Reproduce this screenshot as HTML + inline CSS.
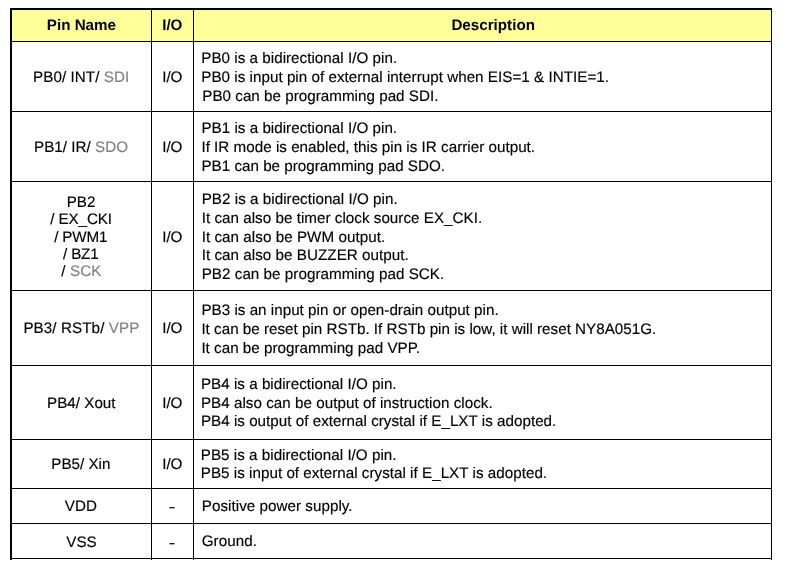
<!DOCTYPE html>
<html lang="en"><head><meta charset="utf-8"><title>Pin Description</title>
<style>
html,body{margin:0;padding:0;background:#fff}
body{width:785px;height:575px;position:relative;overflow:hidden;font-family:"Liberation Sans",Arial,sans-serif;font-size:15.2px;color:#000}
.r,.k,.t{position:absolute}
.k{background:#000}
.t{white-space:pre;-webkit-text-stroke:0.15px;text-rendering:geometricPrecision;line-height:20px;height:20px}
.c{width:200px;text-align:center}
.b{font-weight:bold;-webkit-text-stroke:0}
.g{color:#808080}
.d{transform-origin:50% 14px;transform:scale(1.3,0.84)}
</style></head><body>
<div class="r" style="left:12px;top:10px;width:759px;height:31px;background:#ffff99"></div>
<div class="k" style="left:10px;top:8px;width:2px;height:552px"></div>
<div class="k" style="left:10px;top:8px;width:762px;height:2px"></div>
<div class="k" style="left:771px;top:8px;width:1px;height:552px"></div>
<div class="k" style="left:151px;top:10px;width:1px;height:550px"></div>
<div class="k" style="left:193px;top:10px;width:1px;height:550px"></div>
<div class="k" style="left:12px;top:41px;width:759px;height:1px"></div>
<div class="k" style="left:12px;top:111px;width:759px;height:1px"></div>
<div class="k" style="left:12px;top:181px;width:759px;height:1px"></div>
<div class="k" style="left:12px;top:290px;width:759px;height:1px"></div>
<div class="k" style="left:12px;top:365px;width:759px;height:1px"></div>
<div class="k" style="left:12px;top:439px;width:759px;height:1px"></div>
<div class="k" style="left:12px;top:488px;width:759px;height:1px"></div>
<div class="k" style="left:12px;top:523px;width:759px;height:1px"></div>
<div class="k" style="left:12px;top:558px;width:759px;height:1px"></div>
<div class="t c b" style="left:-18.60px;top:16px">Pin Name</div>
<div class="t c b" style="left:72.30px;top:16px">I/O</div>
<div class="t c b" style="left:393.20px;top:16px">Description</div>
<div class="t c " style="left:-18.85px;top:68px;letter-spacing:0.0542px">PB0/ INT/ <span class="g">SDI</span></div>
<div class="t c " style="left:72.30px;top:68px">I/O</div>
<div class="t " style="left:201.25px;top:49px;letter-spacing:0.0283px">PB0 is a bidirectional I/O pin.</div>
<div class="t " style="left:201.25px;top:68px;letter-spacing:0.0280px">PB0 is input pin of external interrupt when EIS=1 &amp; INTIE=1.</div>
<div class="t " style="left:202.25px;top:87px;letter-spacing:0.0217px">PB0 can be programming pad SDI.</div>
<div class="t c " style="left:-18.95px;top:138px;letter-spacing:0.0409px">PB1/ IR/ <span class="g">SDO</span></div>
<div class="t c " style="left:72.30px;top:138px">I/O</div>
<div class="t " style="left:201.40px;top:119px;letter-spacing:0.0233px">PB1 is a bidirectional I/O pin.</div>
<div class="t " style="left:201.40px;top:138px;letter-spacing:0.0212px">If IR mode is enabled, this pin is IR carrier output.</div>
<div class="t " style="left:201.40px;top:157px;letter-spacing:0.0167px">PB1 can be programming pad SDO.</div>
<div class="t c " style="left:-19.00px;top:193px">PB2</div>
<div class="t c " style="left:-18.94px;top:210px;letter-spacing:-0.0857px">/ EX_CKI</div>
<div class="t c " style="left:-19.24px;top:228px;letter-spacing:-0.1300px">/ PWM1</div>
<div class="t c " style="left:-19.22px;top:245px;letter-spacing:-0.1875px">/ BZ1</div>
<div class="t c " style="left:-18.62px;top:262px;letter-spacing:0.1500px">/ <span class="g">SCK</span></div>
<div class="t c " style="left:72.30px;top:228px">I/O</div>
<div class="t " style="left:201.70px;top:190px;letter-spacing:0.0333px">PB2 is a bidirectional I/O pin.</div>
<div class="t " style="left:201.70px;top:209px;letter-spacing:0.0275px">It can also be timer clock source EX_CKI.</div>
<div class="t " style="left:201.70px;top:228px;letter-spacing:0.0440px">It can also be PWM output.</div>
<div class="t " style="left:201.70px;top:246px;letter-spacing:0.0393px">It can also be BUZZER output.</div>
<div class="t " style="left:201.70px;top:265px;letter-spacing:0.0367px">PB2 can be programming pad SCK.</div>
<div class="t c " style="left:-18.58px;top:319px;letter-spacing:0.0885px">PB3/ RSTb/ <span class="g">VPP</span></div>
<div class="t c " style="left:72.30px;top:319px">I/O</div>
<div class="t " style="left:201.40px;top:301px;letter-spacing:0.0205px">PB3 is an input pin or open-drain output pin.</div>
<div class="t " style="left:201.40px;top:320px;letter-spacing:0.0103px">It can be reset pin RSTb. If RSTb pin is low, it will reset NY8A051G.</div>
<div class="t " style="left:201.40px;top:339px;letter-spacing:0.0103px">It can be programming pad VPP.</div>
<div class="t c " style="left:-18.69px;top:394px;letter-spacing:0.0125px">PB4/ Xout</div>
<div class="t c " style="left:72.30px;top:394px">I/O</div>
<div class="t " style="left:200.90px;top:375px;letter-spacing:0.0233px">PB4 is a bidirectional I/O pin.</div>
<div class="t " style="left:200.90px;top:394px;letter-spacing:0.0326px">PB4 also can be output of instruction clock.</div>
<div class="t " style="left:200.90px;top:412px;letter-spacing:0.0208px">PB4 is output of external crystal if E_LXT is adopted.</div>
<div class="t c " style="left:-19.20px;top:455px">PB5/ Xin</div>
<div class="t c " style="left:72.30px;top:455px">I/O</div>
<div class="t " style="left:200.80px;top:446px;letter-spacing:0.0233px">PB5 is a bidirectional I/O pin.</div>
<div class="t " style="left:200.80px;top:464px;letter-spacing:0.0250px">PB5 is input of external crystal if E_LXT is adopted.</div>
<div class="t c " style="left:-19.05px;top:497px;letter-spacing:0.1000px">VDD</div>
<div class="t c d" style="left:72.00px;top:497px">-</div>
<div class="t " style="left:201.75px;top:497px;letter-spacing:0.0405px">Positive power supply.</div>
<div class="t c " style="left:-18.50px;top:533px">VSS</div>
<div class="t c d" style="left:72.00px;top:533px">-</div>
<div class="t " style="left:201.65px;top:532px;letter-spacing:0.0750px">Ground.</div>
</body></html>
